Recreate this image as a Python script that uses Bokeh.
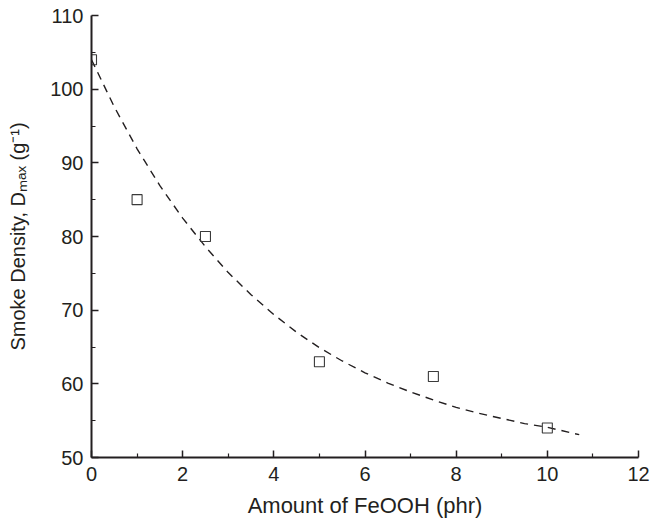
from bokeh.plotting import figure
from bokeh.models import Range1d, FixedTicker
from bokeh.embed import file_html
from bokeh.resources import INLINE

# data
feooh = [0, 1, 2.5, 5, 7.5, 10]
smoke_density = [104, 85, 80, 63, 61, 54]

# dashed fit curve
fit_x = [0, 0.5, 1, 1.5, 2, 2.5, 3, 3.5, 4, 4.5, 5, 5.5, 6, 6.5, 7, 7.5, 8, 8.5, 9, 9.5, 10, 10.7]
fit_y = [104.0, 97.6, 91.9, 86.9, 82.5, 78.6, 75.1, 72.1, 69.4, 67.0, 64.9, 63.1, 61.5,
         60.1, 58.9, 57.8, 56.8, 56.0, 55.3, 54.6, 54.1, 53.1]

x_ticks = [0, 2, 4, 6, 8, 10, 12]
x_minor = [1, 3, 5, 7, 9, 11]
y_ticks = [50, 60, 70, 80, 90, 100, 110]
y_minor = [55, 65, 75, 85, 95, 105]

x_label = "Amount of FeOOH (phr)"
y_label = "Smoke Density, D\u2098\u2090\u2093 (g\u207b\u00b9)"

FONT = "Liberation Sans"
INK = "#231f20"

p = figure(width=651, height=525, output_backend="svg", toolbar_location=None,
           x_range=Range1d(0, 12), y_range=Range1d(50, 110),
           min_border_left=91, min_border_right=13, min_border_top=15, min_border_bottom=68)
p.outline_line_color = None
p.xgrid.visible = False
p.ygrid.visible = False
p.background_fill_color = "white"
p.border_fill_color = "white"

p.line(fit_x, fit_y, line_color=INK, line_width=1.4, line_dash="8 6")
p.scatter(feooh, smoke_density, marker="square", size=10, fill_color=None,
          line_color="#3a3a3a", line_width=1.1)

for ax in (p.xaxis[0], p.yaxis[0]):
    ax.axis_line_color = INK
    ax.axis_line_width = 2
    ax.major_tick_line_color = INK
    ax.minor_tick_line_color = INK
    ax.major_tick_line_width = 1.5
    ax.minor_tick_line_width = 1.2
    ax.major_tick_in = 7
    ax.major_tick_out = 0
    ax.minor_tick_in = 4
    ax.minor_tick_out = 0
    ax.major_label_text_font = FONT
    ax.major_label_text_font_size = "20px"
    ax.major_label_text_color = INK
    ax.axis_label_text_font = FONT
    ax.axis_label_text_font_style = "normal"
    ax.axis_label_text_color = INK

p.xaxis[0].ticker = FixedTicker(ticks=x_ticks, minor_ticks=x_minor)
p.yaxis[0].ticker = FixedTicker(ticks=y_ticks, minor_ticks=y_minor)
p.xaxis[0].major_label_standoff = 9
p.yaxis[0].major_label_standoff = 8
p.xaxis[0].axis_label = x_label
p.xaxis[0].axis_label_text_font_size = "22px"
p.xaxis[0].axis_label_standoff = 9
p.yaxis[0].axis_label = y_label
p.yaxis[0].axis_label_text_font_size = "20px"
p.yaxis[0].axis_label_standoff = 18

open("out.html", "w").write(file_html(p, INLINE))
